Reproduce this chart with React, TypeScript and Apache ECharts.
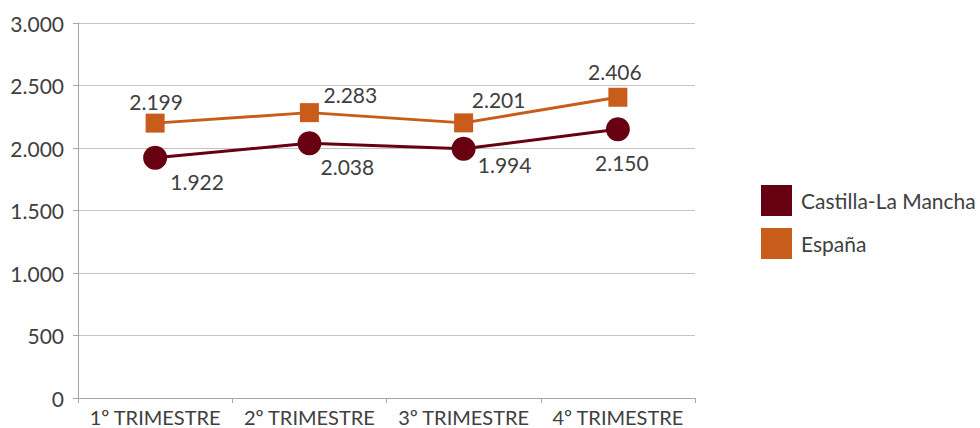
import React, { useEffect, useRef } from "react";
import * as echarts from "echarts";

const categories = ["1º TRIMESTRE", "2º TRIMESTRE", "3º TRIMESTRE", "4º TRIMESTRE"];
const seriesNames = ["Castilla-La Mancha", "España"];
const clmValues = [1922, 2038, 1994, 2150];
const espValues = [2199, 2283, 2201, 2406];
const yTicks = { min: 0, max: 3000, interval: 500 };

const FONT = "Lato, 'Open Sans', sans-serif";
const TEXT = "#404040";
const MAROON = "#670010";
const ORANGE = "#c85c1a";

const fmt = (v: number) => {
  const s = String(Math.round(v));
  return s.replace(/\B(?=(\d{3})+(?!\d))/g, ".");
};

export default function App() {
  const ref = useRef<HTMLDivElement>(null);
  useEffect(() => {
    if (!ref.current) return;
    const chart = echarts.init(ref.current, undefined, { renderer: "svg" });
    const clmOffsets = [[42, 24], [38, 23], [41, 16], [4, 33]];
    const espOffsets = [[1, -22], [41, -18], [35, -23], [-3, -26]];
    const mk = (vals: number[], offs: number[][]) =>
      vals.map((v, i) => ({ value: v, label: { offset: offs[i] } }));
    chart.setOption({
      animation: false,
      textStyle: { fontFamily: FONT },
      grid: { left: 78, right: 285, top: 23, bottom: 30, containLabel: false },
      legend: {
        orient: "vertical",
        left: 756,
        top: 180,
        itemWidth: 31,
        itemHeight: 31,
        itemGap: 12,
        icon: "rect",
        data: seriesNames,
        textStyle: {
          fontFamily: FONT,
          fontSize: 21,
          color: TEXT,
          padding: [26, 0, 0, 4],
        },
      },
      xAxis: {
        type: "category",
        data: categories,
        boundaryGap: true,
        axisLine: { lineStyle: { color: "#a6a6a6", width: 1 } },
        axisTick: { show: true, length: 5, lineStyle: { color: "#a6a6a6" } },
        axisLabel: { color: TEXT, fontSize: 20, margin: 9, fontFamily: FONT, interval: 0, hideOverlap: false },
        splitLine: { show: false },
      },
      yAxis: {
        type: "value",
        min: yTicks.min,
        max: yTicks.max,
        interval: yTicks.interval,
        axisLine: { show: true, lineStyle: { color: "#a6a6a6", width: 1 } },
        axisTick: { show: true, length: 5, lineStyle: { color: "#a6a6a6" } },
        axisLabel: {
          color: TEXT,
          fontSize: 21,
          margin: 14,
          fontFamily: FONT,
          formatter: (v: number) => fmt(v),
        },
        splitLine: { show: true, lineStyle: { color: "#c4c4c4", width: 1 } },
      },
      series: [
        {
          name: seriesNames[0],
          type: "line",
          data: mk(clmValues, clmOffsets),
          symbol: "circle",
          symbolSize: 24,
          showAllSymbol: true,
          lineStyle: { color: MAROON, width: 3 },
          itemStyle: { color: MAROON },
          label: {
            show: true,
            position: "inside",
            color: TEXT,
            fontSize: 21,
            fontFamily: FONT,
            formatter: (p: any) => fmt(p.value),
          },
          z: 3,
        },
        {
          name: seriesNames[1],
          type: "line",
          data: mk(espValues, espOffsets),
          symbol: "rect",
          symbolSize: 19,
          showAllSymbol: true,
          lineStyle: { color: ORANGE, width: 3 },
          itemStyle: { color: ORANGE },
          label: {
            show: true,
            position: "inside",
            color: TEXT,
            fontSize: 21,
            fontFamily: FONT,
            formatter: (p: any) => fmt(p.value),
          },
          z: 2,
        },
      ],
    });
    return () => chart.dispose();
  }, []);
  return <div ref={ref} style={{ width: 980, height: 428, position: "absolute", left: 0, top: 0 }} />;
}
